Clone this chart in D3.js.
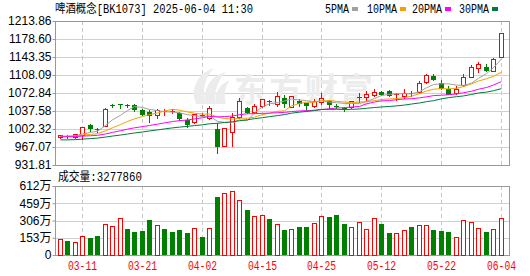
<!DOCTYPE html>
<html>
<head>
<meta charset="utf-8">
<script src="https://cdn.jsdelivr.net/npm/d3@7"></script>
<style>
body { margin: 0; background: #fff; }
svg { display: block; }
</style>
</head>
<body>
<div class="svg"></div>
<script>
const dates = ["03-06","03-07","03-10","03-11","03-12","03-13","03-14","03-17","03-18","03-19",
    "03-20","03-21","03-24","03-25","03-26","03-27","03-28","03-31","04-01","04-02",
    "04-03","04-07","04-08","04-09","04-10","04-11","04-14","04-15","04-16","04-17",
    "04-18","04-21","04-22","04-23","04-24","04-25","04-28","04-29","04-30","05-06",
    "05-07","05-08","05-09","05-12","05-13","05-14","05-15","05-16","05-19","05-20",
    "05-21","05-22","05-23","05-26","05-27","05-28","05-29","05-30","06-03","06-04"];

const open = [987,989,987,991,1009.5,1002,1009,1049.5,1051,1049.5,
    1049.3,1040.2,1036.3,1029.7,1037.5,1036.5,1033.6,1019.3,1017,1029.5,
    1023,1003,970,996,1026,1044,1036,1047,1057.5,1051,
    1064,1046,1057,1053,1048,1055,1057,1048,1043,1046,
    1064,1065,1069,1075,1077,1068,1067,1071.5,1075,1094,
    1106.5,1093,1081,1072,1088,1105,1122.5,1124.5,1116,1144];
const high = [991,991,993.5,1007,1013,1005,1043,1052,1051,1051.5,
    1052,1042,1038.9,1040.8,1041,1041,1036,1023,1032,1033,
    1046.7,1014,1005,1034,1064,1046,1051,1062,1059.5,1075,
    1068,1067,1062,1054,1062,1072,1060,1052,1046,1058,
    1073,1076,1080,1077,1078,1073,1080,1077,1096,1111,
    1111,1098,1086,1086,1110,1128,1134,1129,1142,1190];
const low = [985.5,984,985,983,999,996,1008,1046,1044,1046,
    1038,1029.7,1017,1023.2,1030,1033,1020.6,1005.6,1014,1027,
    1021,956,969,970,1024,1033,1034,1045,1049,1047,
    1045,1045,1048,1040,1046,1051,1044,1044,1038,1044,
    1056,1058,1067,1068,1067,1060,1064,1066,1073,1092,
    1098,1080,1070,1071,1086,1104,1114,1116,1115,1143];
const close = [990,987,992.5,1006,1003.5,1003,1041,1049,1050.5,1049,
    1041.5,1032.3,1030.4,1038.9,1038.5,1037.5,1024.5,1012.8,1031,1030.5,
    1044,970,1004,1026,1057,1036,1047.5,1061,1058,1067,
    1053,1066,1053,1049,1057,1064,1052,1047.5,1041,1057,
    1065,1071,1075.5,1071,1068.5,1070,1073.5,1072.5,1092,1107.5,
    1101,1082,1071,1080.5,1103.5,1123.5,1129.5,1117,1139,1189.7];

// 成交量, 万
const volume = [142,127,115,168,151,168,275,257,325,230,
    207,216,310,266,230,207,222,198,239,160,
    239,517,550,568,488,399,346,352,319,275,
    222,230,248,248,284,346,337,358,275,248,
    293,230,328,275,198,195,222,248,266,266,
    222,213,207,160,310,293,239,207,230,327.786];

const ma5 = [988,988.2,989.1,992.7,995.6,998.2,1009,1020.3,1029.2,1038.5,
    1046.2,1044.5,1040.7,1038.4,1036.2,1035.5,1034,1030.4,1028.5,1026.9,
    1028.1,1017.2,1015.4,1014.8,1020.2,1018.6,1034.1,1045.5,1051.8,1053.8,
    1057.2,1060.9,1059.3,1057.6,1055.6,1057.8,1055,1053.9,1052.3,1052.3,
    1052.5,1056.3,1061.9,1067.9,1070.2,1071.2,1071.7,1071.1,1075.3,1083.1,
    1089.3,1091,1090.7,1088.4,1087.6,1092.1,1101.6,1110.8,1122.5,1139.7];
const ma10 = [988,988.1,988.6,990.3,991.8,993.3,998.6,1004.7,1010.9,1017,
    1022.2,1026.7,1030.5,1033.8,1037.4,1040.9,1039.2,1035.6,1033.4,1031.5,
    1031.8,1025.6,1022.9,1021.6,1023.5,1023.3,1025.6,1030.5,1033.3,1037,
    1037.9,1047.5,1052.4,1054.7,1054.7,1057.5,1058,1056.6,1055,1054,
    1055.2,1055.7,1057.9,1060.1,1061.3,1061.9,1064,1066.5,1071.6,1076.7,
    1080.3,1081.4,1080.9,1081.9,1085.4,1090.7,1096.3,1100.8,1105.5,1113.7];
const ma20 = [987.2,987.2,987.4,988.4,989.1,989.9,992.6,995.7,998.9,1002,
    1004.7,1007,1009.2,1011.8,1014.3,1016.9,1018.7,1020,1022.1,1024.3,
    1027,1026.1,1026.7,1027.7,1030.4,1032.1,1032.4,1033,1033.4,1034.3,
    1034.8,1036.5,1037.7,1038.2,1039.1,1040.4,1041.8,1043.5,1044.1,1045.5,
    1046.5,1051.6,1055.2,1057.4,1058,1059.7,1061,1061.6,1063.3,1065.3,
    1067.7,1068.5,1069.4,1071,1073.3,1076.3,1080.2,1083.6,1088.5,1095.2];
const ma30 = [981,981,981.5,982.5,983.5,984.5,986.5,988.5,990.5,992.5,
    994.5,996.5,998.5,1000.5,1002.5,1004.5,1006,1007.5,1009,1010.5,
    1012.5,1013.5,1015,1016.5,1018.5,1020.5,1022.5,1024.5,1026.5,1028.5,
    1030.6,1033.3,1035.3,1036.7,1038.5,1040.6,1040.9,1040.9,1040.6,1040.8,
    1041.6,1042.9,1044.4,1045.5,1046.5,1047.6,1049.2,1051.2,1053.3,1055.9,
    1057.8,1061.5,1063.7,1065.6,1067.1,1070,1072.8,1074.6,1077.3,1081.4];

const priceTicks = [931.81,967.07,1002.32,1037.58,1072.84,1108.09,1143.35,1178.60,1213.86];
const volumeTicks = [0,153,306,459,612];
const dateTicks = ["03-11","03-21","04-02","04-15","04-25","05-12","05-22","06-04"];

const title = "啤酒概念[BK1073] 2025-06-04 11:30";
const legend = [
    {name: "5PMA", color: "#a0a0a0", x: 325},
    {name: "10PMA", color: "#f2a100", x: 367},
    {name: "20PMA", color: "#ff00ff", x: 412},
    {name: "30PMA", color: "#007a3a", x: 459}
];
const maSeries = [ma5, ma10, ma20, ma30];

const width = 530;
const height = 276;
const left = 55, right = 509;
const top1 = 21, bottom1 = 165, top2 = 186, bottom2 = 255;
const red = "#ff0000", green = "#008000";
const mono = "'Liberation Mono','DejaVu Sans Mono','Noto Sans CJK SC',monospace";
const sans = "'Liberation Sans',Arial,'Noto Sans CJK SC',sans-serif";

let svg = d3.select('.svg').append('svg').attr('width', width).attr('height', height);
svg.append('rect').attr('width', width).attr('height', height).attr('fill', '#fff');

let scaleX = d3.scaleBand().domain(dates).range([56, 504.5]);
let cx = d => Math.round(scaleX(d) + scaleX.bandwidth() / 2);
let scaleY = d3.scaleLinear().domain([priceTicks[0], priceTicks[priceTicks.length - 1]]).range([bottom1, top1]);
let scaleV = d3.scaleLinear().domain([0, volumeTicks[volumeTicks.length - 1]]).range([bottom2, top2]);

// grid
let grid = svg.append('g');
priceTicks.slice(1, -1).forEach(t => {
    let y = Math.round(scaleY(t)) + 0.5;
    grid.append('line').attr('x1', left).attr('x2', right).attr('y1', y).attr('y2', y)
        .attr('stroke', '#d0d0d0');
});
volumeTicks.slice(1, -1).forEach(t => {
    let y = Math.round(scaleV(t)) + 0.5;
    grid.append('line').attr('x1', left).attr('x2', right).attr('y1', y).attr('y2', y)
        .attr('stroke', '#d0d0d0');
});
dateTicks.forEach(d => {
    let x = cx(d) + 0.5;
    [[top1, bottom1], [top2, bottom2]].forEach(r => {
        grid.append('line').attr('x1', x).attr('x2', x).attr('y1', r[0]).attr('y2', r[1])
            .attr('stroke', '#c8c8c8').attr('stroke-dasharray', '4,3');
    });
});

// watermark (logo + name)
let wm = svg.append('g').attr('fill', '#ececec');
wm.append('path').attr('d', 'M196,104 C190,90 196,74 214,68 C204,78 202,92 206,104 Z');
wm.append('path').attr('d', 'M206,104 C202,90 210,76 226,72 C216,82 214,94 216,104 Z');
wm.append('path').attr('d', 'M216,104 C214,92 220,84 230,80 C224,88 224,96 226,104 Z');
wm.append('text').attr('x', 234).attr('y', 102)
    .attr('font-family', "'Noto Sans CJK SC',sans-serif").attr('font-weight', 'bold')
    .attr('font-size', 33).attr('textLength', 139)
    .text('东方财富');

// frames
svg.append('rect').attr('x', left + 0.5).attr('y', top1 + 0.5)
    .attr('width', right - left).attr('height', bottom1 - top1)
    .attr('fill', 'none').attr('stroke', '#999');
svg.append('rect').attr('x', left + 0.5).attr('y', top2 + 0.5)
    .attr('width', right - left).attr('height', bottom2 - top2)
    .attr('fill', 'none').attr('stroke', '#999');

// axes
let axisY = d3.axisLeft(scaleY).tickValues(priceTicks).tickSize(3).tickPadding(1)
    .tickFormat(d3.format('.2f'));
let gy = svg.append('g').attr('transform', 'translate(' + (left + 0.5) + ',0)').call(axisY);
let axisV = d3.axisLeft(scaleV).tickValues(volumeTicks).tickSize(3).tickPadding(1)
    .tickFormat(d => d === 0 ? '0' : d + '万');
let gv = svg.append('g').attr('transform', 'translate(' + (left + 0.5) + ',0)').call(axisV);
[gy, gv].forEach(g => {
    g.select('.domain').remove();
    g.selectAll('line').attr('stroke', '#999');
    g.selectAll('text').attr('fill', '#000').attr('font-size', 12).attr('font-family', sans);
});

// direction: vs previous close (first bar vs its open)
let isUp = i => i === 0 ? close[i] >= open[i] : close[i] >= close[i - 1];
let candleUp = i => close[i] > open[i] || (close[i] === open[i] && isUp(i));

// candles
let gs = svg.append('g').selectAll('g').data(dates).enter().append('g');
gs.each(function (d, i) {
    let g = d3.select(this);
    let x = cx(d);
    let col = candleUp(i) ? red : green;
    g.append('line').attr('x1', x + 0.5).attr('x2', x + 0.5)
        .attr('y1', Math.round(scaleY(high[i]))).attr('y2', Math.round(scaleY(low[i])) + 1)
        .attr('stroke', col);
    let yt = Math.round(scaleY(Math.max(open[i], close[i])));
    let yb = Math.round(scaleY(Math.min(open[i], close[i])));
    if (yb - yt < 2) {
        g.append('rect').attr('x', x - 2).attr('y', yt).attr('width', 5).attr('height', Math.max(yb - yt, 1))
            .attr('fill', col);
    } else if (candleUp(i)) {
        g.append('rect').attr('x', x - 1.5).attr('y', yt + 0.5).attr('width', 4).attr('height', yb - yt)
            .attr('fill', '#fff').attr('stroke', red);
    } else {
        g.append('rect').attr('x', x - 2).attr('y', yt).attr('width', 5).attr('height', yb - yt + 1)
            .attr('fill', green);
    }
});

// moving averages
maSeries.forEach((s, k) => {
    let line = d3.line()
        .x((d, i) => cx(dates[i]) + 0.5)
        .y(d => scaleY(d));
    svg.append('path').datum(s).attr('d', line)
        .attr('fill', 'none').attr('stroke', legend[k].color).attr('stroke-width', 1);
});

// volume
svg.append('g').selectAll('rect').data(volume).enter().append('rect')
    .attr('x', (d, i) => isUp(i) ? cx(dates[i]) - 1.5 : cx(dates[i]) - 2)
    .attr('y', (d, i) => Math.round(scaleV(d)) + (isUp(i) ? 0.5 : 0))
    .attr('width', (d, i) => isUp(i) ? 4 : 5)
    .attr('height', d => bottom2 - Math.round(scaleV(d)))
    .attr('fill', (d, i) => isUp(i) ? '#fff' : green)
    .attr('stroke', (d, i) => isUp(i) ? red : 'none');

// date labels
svg.append('g').selectAll('text').data(dateTicks).enter().append('text')
    .attr('x', d => cx(d) + 0.5)
    .attr('y', 270)
    .attr('text-anchor', 'middle')
    .attr('font-family', mono).attr('font-size', 12)
    .attr('textLength', 29).attr('lengthAdjust', 'spacingAndGlyphs')
    .attr('fill', red)
    .text(d => d);

// title and legend
svg.append('text').attr('x', 55).attr('y', 13)
    .attr('font-family', mono).attr('font-size', 12)
    .attr('textLength', 198).attr('lengthAdjust', 'spacingAndGlyphs')
    .attr('fill', '#000').text(title);
let lg = svg.append('g').selectAll('g').data(legend).enter().append('g');
lg.append('text').attr('x', d => d.x).attr('y', 13)
    .attr('font-family', mono).attr('font-size', 12)
    .attr('textLength', d => d.name.length * 6).attr('lengthAdjust', 'spacingAndGlyphs')
    .attr('fill', '#000').text(d => d.name);
lg.append('rect').attr('x', d => d.x + d.name.length * 6 + 3).attr('y', 7)
    .attr('width', 6).attr('height', 4).attr('fill', d => d.color);

svg.append('text').attr('x', 58).attr('y', 181)
    .attr('font-family', mono).attr('font-size', 12)
    .attr('textLength', 84).attr('lengthAdjust', 'spacingAndGlyphs')
    .attr('fill', '#000')
    .text('成交量:' + Math.round(volume[volume.length - 1] * 10000));
</script>
</body>
</html>
